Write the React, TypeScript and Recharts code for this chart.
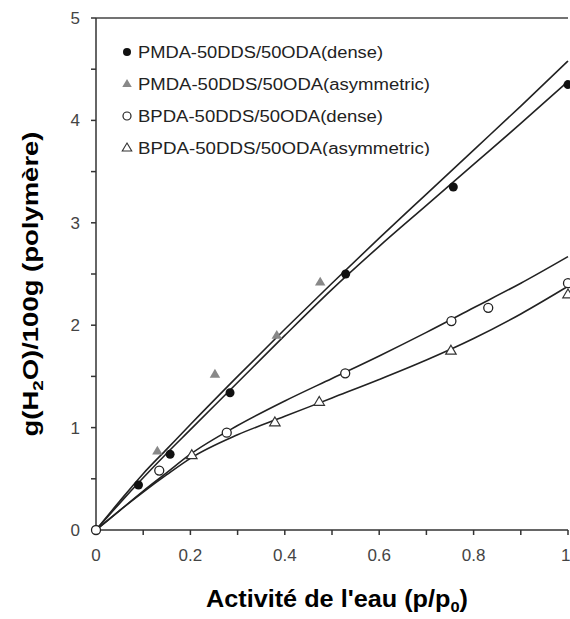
import { ComposedChart, Line, Scatter, XAxis, YAxis, ReferenceLine, Label } from 'recharts'

// fitted curves
const fitX = [0, 0.05, 0.1, 0.15, 0.2, 0.3, 0.4, 0.5, 0.6, 0.7, 0.8, 0.9, 1.0]
const pmdaAsymFit = [0, 0.28, 0.55, 0.79, 1.03, 1.5, 1.96, 2.41, 2.85, 3.28, 3.71, 4.14, 4.58]
const pmdaDenseFit = [0, 0.26, 0.51, 0.75, 0.98, 1.44, 1.9, 2.35, 2.77, 3.17, 3.57, 3.97, 4.38]
const bpdaDenseFit = [0, 0.19, 0.38, 0.56, 0.74, 1.02, 1.26, 1.48, 1.7, 1.93, 2.17, 2.41, 2.67]
const bpdaAsymFit = [0, 0.19, 0.37, 0.54, 0.7, 0.93, 1.11, 1.29, 1.47, 1.66, 1.87, 2.11, 2.38]

// measured points
const pmdaDenseX = [0.09, 0.157, 0.284, 0.529, 0.757, 1.0]
const pmdaDenseY = [0.44, 0.74, 1.34, 2.5, 3.35, 4.35]
const pmdaAsymX = [0.13, 0.252, 0.383, 0.475]
const pmdaAsymY = [0.77, 1.52, 1.9, 2.42]
const bpdaDenseX = [0, 0.134, 0.277, 0.528, 0.753, 0.831, 1.0]
const bpdaDenseY = [0, 0.58, 0.95, 1.53, 2.04, 2.17, 2.41]
const bpdaAsymX = [0.203, 0.379, 0.473, 0.752, 1.0]
const bpdaAsymY = [0.73, 1.05, 1.25, 1.75, 2.3]

const xTicks = [0, 0.1, 0.2, 0.3, 0.4, 0.5, 0.6, 0.7, 0.8, 0.9, 1]
const yTicks = [0, 0.5, 1, 1.5, 2, 2.5, 3, 3.5, 4, 4.5, 5]

const legendNames = [
  'PMDA-50DDS/50ODA(dense)',
  'PMDA-50DDS/50ODA(asymmetric)',
  'BPDA-50DDS/50ODA(dense)',
  'BPDA-50DDS/50ODA(asymmetric)',
]

const toPts = (xs: number[], ys: number[]) => xs.map((x, i) => ({ x, y: ys[i] }))

const font = 'Liberation Sans, Arial, sans-serif'
const ink = '#222'

const FilledDot = (p: any) => <circle cx={p.cx} cy={p.cy} r={4.5} fill="#111" />
const OpenDot = (p: any) => <circle cx={p.cx} cy={p.cy} r={4.5} fill="#fff" stroke="#222" strokeWidth={1.3} />
const tri = (cx: number, cy: number, s: number) =>
  `M${cx},${cy - s} L${cx + s * 0.95},${cy + s * 0.6} L${cx - s * 0.95},${cy + s * 0.6} Z`
const GrayTri = (p: any) => <path d={tri(p.cx, p.cy, 5.5)} fill="#888" />
const OpenTri = (p: any) => <path d={tri(p.cx, p.cy, 5.5)} fill="#fff" stroke="#333" strokeWidth={1.2} />

const legendMarks = [
  (x: number, y: number) => <circle cx={x} cy={y} r={4} fill="#111" />,
  (x: number, y: number) => <path d={tri(x, y, 5)} fill="#888" />,
  (x: number, y: number) => <circle cx={x} cy={y} r={4} fill="#fff" stroke="#222" strokeWidth={1.2} />,
  (x: number, y: number) => <path d={tri(x, y, 5)} fill="#fff" stroke="#333" strokeWidth={1.1} />,
]

const XTitle = (props: any) => {
  const { x, y, width } = props.viewBox
  return (
    <text x={x + width / 2 + 5} y={y + 77} textAnchor="middle" fontFamily={font} fontWeight="bold" fontSize={23} fill="#000"
      textLength={262} lengthAdjust="spacingAndGlyphs">
      Activité de l'eau (p/p<tspan dy={5} fontSize={15}>0</tspan><tspan dy={-5}>)</tspan>
    </text>
  )
}

const YTitle = (props: any) => {
  const { y, height } = props.viewBox
  const cx = 38
  const cy = y + height / 2 + 10
  return (
    <text x={cx} y={cy} transform={`rotate(-90, ${cx}, ${cy})`} textAnchor="middle" fontFamily={font} fontWeight="bold" fontSize={22} fill="#000"
      textLength={305} lengthAdjust="spacingAndGlyphs">
      g(H<tspan dy={5} fontSize={15}>2</tspan><tspan dy={-5}>O)/100g (polymère)</tspan>
    </text>
  )
}

const App = () => {
  return (
    <div style={{ position: 'absolute', left: 0, top: 0, width: 570, height: 619, background: '#fff' }}>
      <ComposedChart width={570} height={619} margin={{ top: 18, right: 2, left: 0, bottom: 0 }}>
        <XAxis
          dataKey="x"
          type="number"
          domain={[0, 1]}
          ticks={xTicks}
          allowDuplicatedCategory={false}
          tickFormatter={(v) => (Math.round(v * 10) % 2 === 0 ? `${v}` : '')}
          height={89}
          stroke="#333"
          strokeWidth={1.5}
          tickSize={5}
          tickMargin={14}
          tick={{ fill: '#444', fontSize: 17, fontFamily: font }}
        >
          <Label content={XTitle} />
        </XAxis>
        <YAxis
          type="number"
          domain={[0, 5]}
          ticks={yTicks}
          tickFormatter={(v) => (Number.isInteger(v) ? `${v}` : '')}
          width={96}
          stroke="#333"
          strokeWidth={1.5}
          tickSize={5}
          tickMargin={11}
          tick={{ fill: '#444', fontSize: 17, fontFamily: font }}
        >
          <Label content={YTitle} />
        </YAxis>
        <ReferenceLine y={5} stroke="#444" strokeWidth={1.5} />
        <Line data={toPts(fitX, pmdaAsymFit)} dataKey="y" type="monotone" stroke={ink} strokeWidth={1.6} dot={false} isAnimationActive={false} />
        <Line data={toPts(fitX, pmdaDenseFit)} dataKey="y" type="monotone" stroke={ink} strokeWidth={1.6} dot={false} isAnimationActive={false} />
        <Line data={toPts(fitX, bpdaDenseFit)} dataKey="y" type="monotone" stroke={ink} strokeWidth={1.6} dot={false} isAnimationActive={false} />
        <Line data={toPts(fitX, bpdaAsymFit)} dataKey="y" type="monotone" stroke={ink} strokeWidth={1.6} dot={false} isAnimationActive={false} />
        <Scatter data={toPts(pmdaDenseX, pmdaDenseY)} dataKey="y" shape={FilledDot} isAnimationActive={false} />
        <Scatter data={toPts(pmdaAsymX, pmdaAsymY)} dataKey="y" shape={GrayTri} isAnimationActive={false} />
        <Scatter data={toPts(bpdaDenseX, bpdaDenseY)} dataKey="y" shape={OpenDot} isAnimationActive={false} />
        <Scatter data={toPts(bpdaAsymX, bpdaAsymY)} dataKey="y" shape={OpenTri} isAnimationActive={false} />
      </ComposedChart>
      <svg width={330} height={120} style={{ position: 'absolute', left: 115, top: 36 }}>
        {legendNames.map((name, i) => (
          <g key={name}>
            {legendMarks[i](12, 16 + i * 32)}
            <text x={23} y={16 + i * 32 + 5.5} fontFamily={font} fontSize={16} fill="#222" textLength={name.length > 24 ? 292 : 245} lengthAdjust="spacingAndGlyphs">
              {name}
            </text>
          </g>
        ))}
      </svg>
    </div>
  )
}

export default App
